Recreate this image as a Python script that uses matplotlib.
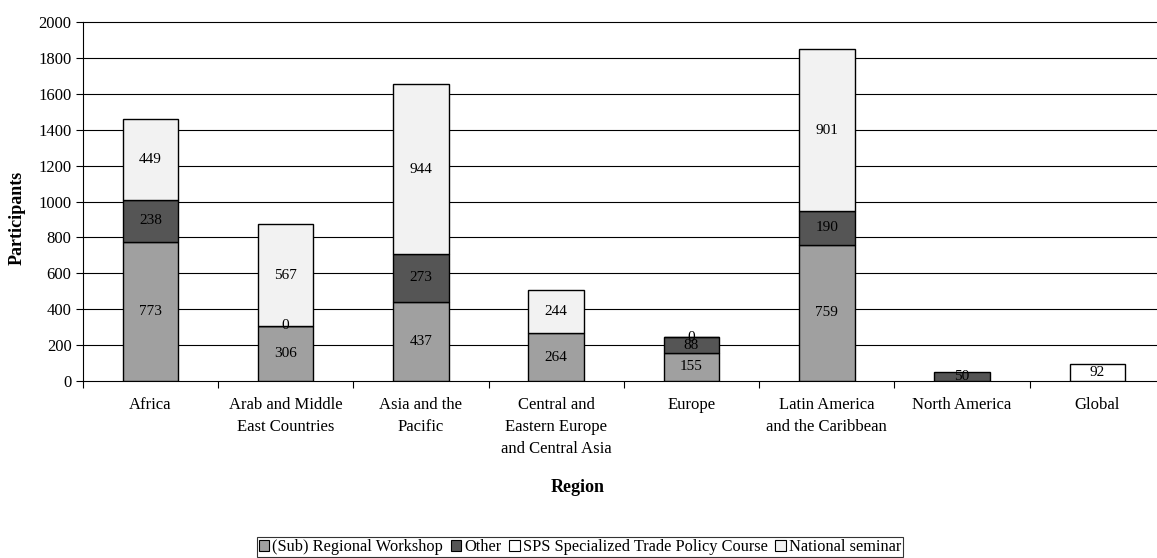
import matplotlib
matplotlib.use("Agg")
import matplotlib.pyplot as plt
import numpy as np
from matplotlib.patches import Patch

categories = ["Africa", "Arab and Middle\nEast Countries", "Asia and the\nPacific",
              "Central and\nEastern Europe\nand Central Asia", "Europe",
              "Latin America\nand the Caribbean", "North America", "Global"]
regional = [773, 306, 437, 264, 155, 759, None, None]
other = [238, 0, 273, None, 88, 190, 50, None]
sps = [None, None, None, None, 0, None, None, 92]
national = [449, 567, 944, 244, None, 901, None, None]

series = [
    ("(Sub) Regional Workshop", regional, "#a0a0a0"),
    ("Other", other, "#555555"),
    ("SPS Specialized Trade Policy Course", sps, "#ffffff"),
    ("National seminar", national, "#f2f2f2"),
]
yticks = [0, 200, 400, 600, 800, 1000, 1200, 1400, 1600, 1800, 2000]

plt.rcParams["font.family"] = ["Liberation Serif", "DejaVu Serif"]
FS_TICK = 12
FS_LBL = 11
FS_TITLE = 13

W, H = 1157, 558
fig = plt.figure(figsize=(W / 100, H / 100), dpi=100)
left_px, right_px, top_px, bot_px = 82.7, 1165.0, 22.5, 380.7
ax = fig.add_axes([left_px / W, 1 - bot_px / H, (right_px - left_px) / W, (bot_px - top_px) / H])

x = np.arange(len(categories))
bottom = np.zeros(len(categories))
for name, vals, col in series:
    v = np.array([np.nan if a is None else a for a in vals], dtype=float)
    mask = ~np.isnan(v)
    ax.bar(x[mask], v[mask], bottom=bottom[mask], width=0.41, color=col,
           edgecolor="black", linewidth=1.0, zorder=3)
    for xi, vi, bi in zip(x[mask], v[mask], bottom[mask]):
        ax.text(xi, bi + vi / 2, f"{int(vi)}", ha="center", va="center",
                fontsize=FS_LBL, color="black", zorder=4)
    bottom[mask] += v[mask]

ax.set_xlim(-0.5, len(categories) - 0.5)
ax.set_ylim(0, 2000)
ax.set_yticks(yticks)
ax.set_yticklabels([str(t) for t in yticks], fontsize=FS_TICK)
for t in yticks[1:]:
    ax.axhline(t, color="black", linewidth=0.8, zorder=0, clip_on=False)

ax.set_xticks(x)
ax.set_xticklabels(categories, fontsize=FS_TICK, linespacing=1.5)
ax.set_xticks(np.arange(-0.5, len(categories), 1.0), minor=True)
ax.tick_params(axis="x", which="major", length=0, pad=12)
ax.tick_params(axis="x", which="minor", length=5, width=0.8, direction="out")
ax.tick_params(axis="y", length=5, width=0.8, direction="out", pad=3)

for s in ["top", "right"]:
    ax.spines[s].set_visible(False)
ax.spines["left"].set_linewidth(0.8)
ax.spines["bottom"].set_linewidth(0.8)

fig.text(17 / W, 1 - 218 / H, "Participants", rotation=90, ha="center", va="center",
         fontsize=FS_TITLE, fontweight="bold")
fig.text(578 / W, 1 - 487 / H, "Region", ha="center", va="center",
         fontsize=FS_TITLE, fontweight="bold")

handles = [Patch(facecolor=c, edgecolor="black", linewidth=0.8, label=n) for n, _, c in series]
leg = fig.legend(handles=handles, loc="center", bbox_to_anchor=(580 / W, 1 - 547 / H),
                 ncol=4, fontsize=11.8, frameon=True, fancybox=False, borderpad=0.12,
                 handlelength=0.65, handleheight=0.65, handletextpad=0.2, columnspacing=0.45,
                 borderaxespad=0)
leg.get_frame().set_edgecolor("black")
leg.get_frame().set_linewidth(0.8)

fig.savefig("out.png", dpi=100)
